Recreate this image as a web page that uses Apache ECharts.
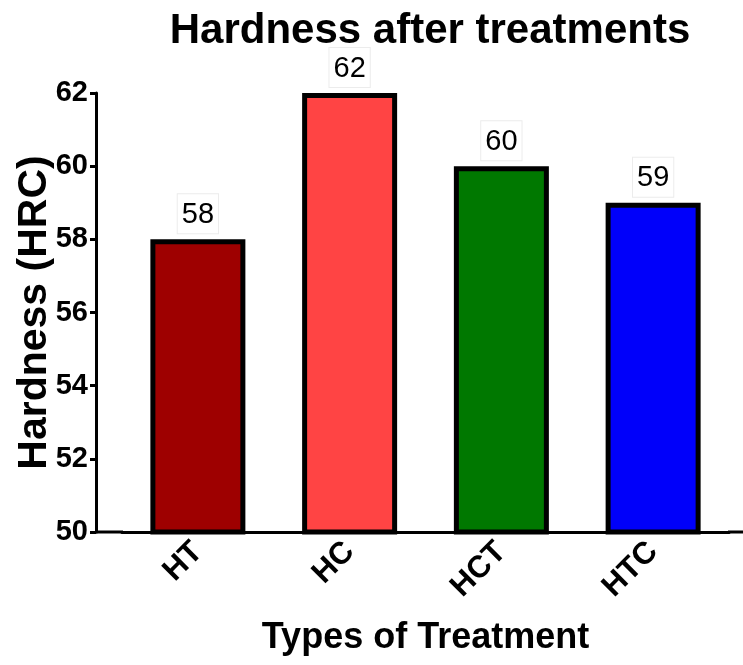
<!DOCTYPE html>
<html><head><meta charset="utf-8">
<script src="https://cdn.jsdelivr.net/npm/echarts@6/dist/echarts.min.js"></script>
<style>html,body{margin:0;padding:0;background:#fff}#c{width:743px;height:665px}</style>
</head><body><div id="c"></div>
<script>
const categories = ['HT', 'HC', 'HCT', 'HTC'];
const hardness = [58, 62, 60, 59];
const barColors = ['#9E0000', '#FF4444', '#007800', '#0000FA'];
const yTicks = { min: 50, max: 62, interval: 2 };

const FONT = '"Liberation Sans", Arial, sans-serif';
const chart = echarts.init(document.getElementById('c'), null, { renderer: 'canvas' });
chart.setOption({
  animation: false,
  backgroundColor: '#fff',
  title: {
    text: 'Hardness after treatments',
    left: 425, top: 5, textAlign: 'center',
    textStyle: { fontFamily: FONT, fontWeight: 'bold', fontSize: 42, color: '#000' }
  },
  grid: { left: 122, right: 14, top: 93, bottom: 133, containLabel: false, outerBoundsMode: 'none' },
  xAxis: {
    type: 'category',
    data: categories,
    name: 'Types of Treatment',
    nameLocation: 'middle',
    nameGap: 88,
    nameMoveOverlap: false,
    nameTextStyle: { fontFamily: FONT, fontWeight: 'bold', fontSize: 36, color: '#000' },
    axisLine: { lineStyle: { color: '#000', width: 3 } },
    axisTick: { alignWithLabel: true, length: 6, lineStyle: { color: '#000', width: 3 } },
    axisLabel: { rotate: 45, margin: 15, fontFamily: FONT, fontWeight: 'bold', fontSize: 31, color: '#000' }
  },
  yAxis: {
    type: 'value',
    min: yTicks.min, max: yTicks.max, interval: yTicks.interval,
    offset: 26,
    name: 'Hardness (HRC)',
    nameLocation: 'middle',
    nameGap: 41,
    nameMoveOverlap: false,
    nameTextStyle: { fontFamily: FONT, fontWeight: 'bold', fontSize: 41, color: '#000' },
    axisLine: { show: true, lineStyle: { color: '#000', width: 3 } },
    axisTick: { show: true, length: 6, lineStyle: { color: '#000', width: 3 } },
    axisLabel: { margin: 8, fontFamily: FONT, fontWeight: 'bold', fontSize: 29, color: '#000' },
    splitLine: { show: false }
  },
  graphic: [
    { type: 'line', shape: { x1: 95, y1: 532, x2: 123, y2: 532 }, style: { stroke: '#000', lineWidth: 3 } },
    { type: 'line', shape: { x1: 728, y1: 532, x2: 743, y2: 532 }, style: { stroke: '#000', lineWidth: 3 } }
  ],
  series: [{
    type: 'bar',
    barWidth: 95,
    data: hardness.map((v, i) => ({ value: v, itemStyle: { color: barColors[i] } })),
    itemStyle: { borderColor: '#000', borderWidth: 5 },
    label: {
      show: true, position: 'top', distance: 6,
      fontFamily: FONT, fontSize: 29, color: '#000',
      backgroundColor: '#fff', borderColor: '#ececec', borderWidth: 1, padding: [6, 4, 4, 4]
    }
  }]
});
</script></body></html>
